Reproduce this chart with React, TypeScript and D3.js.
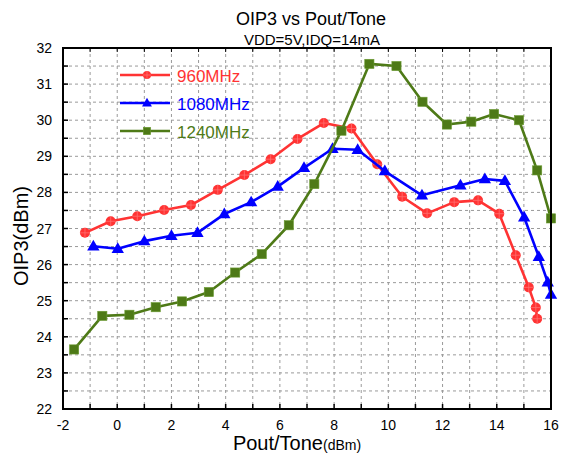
import React from "react";
import * as d3 from "d3";

const x960 = [-1.19, -0.24, 0.74, 1.73, 2.72, 3.71, 4.69, 5.66, 6.65, 7.62, 8.64, 9.59, 10.51, 11.43, 12.43, 13.31, 14.09, 14.7, 15.18, 15.44, 15.49];
const y960 = [26.88, 27.2, 27.34, 27.51, 27.65, 28.07, 28.48, 28.92, 29.48, 29.92, 29.77, 28.78, 27.88, 27.42, 27.73, 27.78, 27.41, 26.26, 25.37, 24.81, 24.5];
const x1080 = [-0.88, 0.02, 1.0, 2.0, 2.96, 3.95, 4.94, 5.92, 6.89, 7.94, 8.87, 9.87, 11.24, 12.66, 13.56, 14.3, 15.01, 15.55, 15.88, 16.0];
const y1080 = [26.51, 26.44, 26.65, 26.8, 26.88, 27.4, 27.73, 28.16, 28.68, 29.21, 29.18, 28.59, 27.92, 28.2, 28.37, 28.32, 27.31, 26.22, 25.51, 25.17];
const x1240 = [-1.59, -0.55, 0.45, 1.42, 2.39, 3.38, 4.35, 5.33, 6.33, 7.27, 8.27, 9.3, 10.3, 11.26, 12.16, 13.06, 13.9, 14.82, 15.49, 16.0];
const y1240 = [23.65, 24.58, 24.61, 24.82, 24.98, 25.24, 25.78, 26.29, 27.09, 28.23, 29.71, 31.56, 31.5, 30.51, 29.88, 29.96, 30.17, 30.0, 28.61, 27.28];

const xTicks = [-2, 0, 2, 4, 6, 8, 10, 12, 14, 16];
const yTicks = [22, 23, 24, 25, 26, 27, 28, 29, 30, 31, 32];
const seriesNames = ["960MHz", "1080MHz", "1240MHz"];
const colors = ["#ff3333", "#0000ff", "#4e7a17"];

const W = 563, H = 455;
const L = 63, R = 551, T = 48, B = 409;

export default function App() {
  const x = d3.scaleLinear().domain([-2, 16]).range([L, R]);
  const y = d3.scaleLinear().domain([22, 32]).range([B, T]);
  const series = [
    x960.map((v, i) => [v, y960[i]]),
    x1080.map((v, i) => [v, y1080[i]]),
    x1240.map((v, i) => [v, y1240[i]]),
  ];
  const line = d3.line<number[]>().x((d) => x(d[0])).y((d) => y(d[1]));
  const xGrid = d3.range(-1, 16, 1);
  const yGrid = d3.range(22.5, 32, 0.5);
  const xMinor = d3.range(-1, 16, 1);
  const yMinor = d3.range(22.5, 32, 0.5);
  const font = "Liberation Sans, Arial, sans-serif";

  const marker = (k: number, cx: number, cy: number, s: number, key: string) => {
    const c = colors[k];
    if (k === 0) {
      return (
        <g key={key}>
          <circle cx={cx} cy={cy} r={5 * s} fill={c} />
          <line x1={cx - 5 * s} x2={cx + 5 * s} y1={cy} y2={cy} stroke="#ff7070" strokeWidth={0.8} />
          <line x1={cx} x2={cx} y1={cy - 5 * s} y2={cy + 5 * s} stroke="#ff7070" strokeWidth={0.8} />
        </g>
      );
    }
    if (k === 1) {
      const r = 6.5 * s;
      return (
        <path key={key} d={`M${cx},${cy - r}L${cx + r * 0.95},${cy + r * 0.65}L${cx - r * 0.95},${cy + r * 0.65}Z`} fill={c} />
      );
    }
    const h = 4.6 * s;
    return <rect key={key} x={cx - h} y={cy - h} width={2 * h} height={2 * h} fill={c} stroke="#6a9a30" strokeWidth={0.6} />;
  };

  return (
    <svg width={W} height={H} style={{ position: "absolute", left: 0, top: 0, background: "#fff" }} fontFamily={font}>
      <rect width={W} height={H} fill="#fff" />
      {xGrid.map((v) => (
        <line key={"gx" + v} x1={x(v)} x2={x(v)} y1={T} y2={B} stroke="#9a9a9a" strokeWidth={1} strokeDasharray="3,3" />
      ))}
      {yGrid.map((v) => (
        <line key={"gy" + v} x1={L} x2={R} y1={y(v)} y2={y(v)} stroke="#9a9a9a" strokeWidth={1} strokeDasharray="3,3" />
      ))}
      {xMinor.map((v) => (
        <g key={"tx" + v}>
          <line x1={x(v)} x2={x(v)} y1={B} y2={B - 5} stroke="#000" strokeWidth={1.5} />
          <line x1={x(v)} x2={x(v)} y1={T} y2={T + 4} stroke="#000" strokeWidth={1} />
        </g>
      ))}
      {yMinor.map((v) => (
        <line key={"ty" + v} x1={L} x2={L + 5} y1={y(v)} y2={y(v)} stroke="#000" strokeWidth={1.5} />
      ))}
      {series.map((s, k) => (
        <g key={"s" + k}>
          <path d={line(s) || ""} fill="none" stroke={colors[k]} strokeWidth={2.6} strokeLinejoin="round" />
          {s.map((d, i) => marker(k, x(d[0]), y(d[1]), 1, `m${k}-${i}`))}
        </g>
      ))}
      <rect x={L} y={T} width={R - L} height={B - T} fill="none" stroke="#000" strokeWidth={2} />
      {xTicks.map((v) => (
        <text key={"lx" + v} x={x(v)} y={430} fontSize={14} textAnchor="middle" fill="#000">{v}</text>
      ))}
      {yTicks.map((v) => (
        <text key={"ly" + v} x={52} y={y(v) + 5} fontSize={14} textAnchor="end" fill="#000">{v}</text>
      ))}
      <text x={311} y={25} fontSize={18} textAnchor="middle" fill="#000">OIP3 vs Pout/Tone</text>
      <text x={312} y={45} fontSize={15} textAnchor="middle" fill="#000">VDD=5V,IDQ=14mA</text>
      <text x={297} y={450} fontSize={20} textAnchor="middle" fill="#000">
        Pout/Tone<tspan fontSize={14}>(dBm)</tspan>
      </text>
      <text transform={`translate(28,236) rotate(-90)`} fontSize={20} textAnchor="middle" fill="#000">OIP3(dBm)</text>
      {seriesNames.map((n, k) => {
        const ly = 75 + k * 28;
        return (
          <g key={"lg" + k}>
            <line x1={120} x2={170} y1={ly} y2={ly} stroke={colors[k]} strokeWidth={2.6} />
            {marker(k, 147, ly, 0.8, "lm" + k)}
            <text x={177} y={ly + 6.5} fontSize={17} fill={colors[k]}>{n}</text>
          </g>
        );
      })}
    </svg>
  );
}
